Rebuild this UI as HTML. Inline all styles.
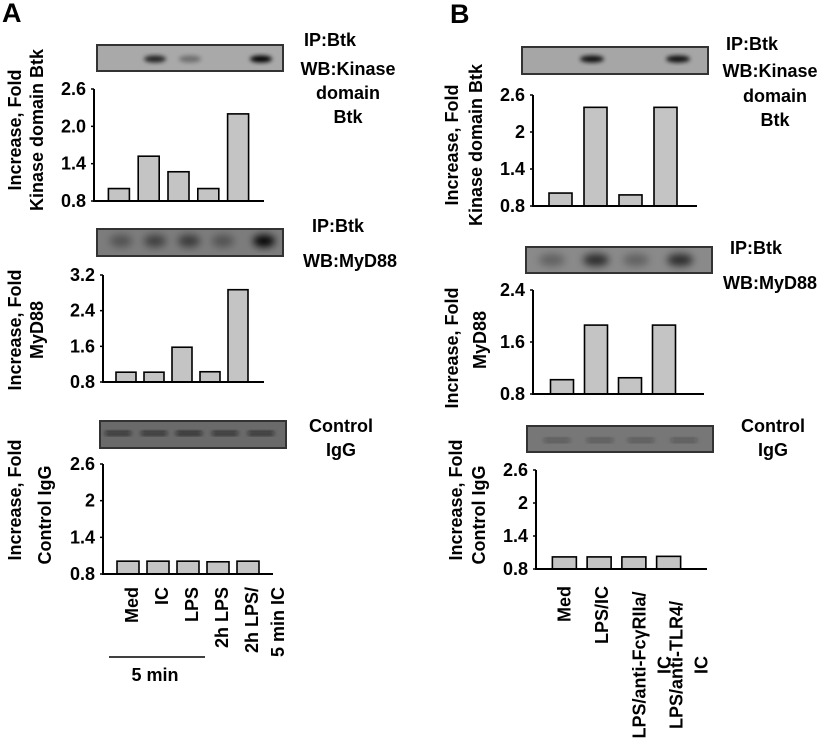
<!DOCTYPE html>
<html><head><meta charset="utf-8"><style>
html,body{margin:0;padding:0;background:#fff;}
svg{display:block;font-family:"Liberation Sans",Arial,sans-serif;font-weight:bold;}
</style></head><body>
<svg id="fig" width="830" height="748" viewBox="0 0 830 748" xmlns="http://www.w3.org/2000/svg">
<defs>
<filter id="blur1" x="-50%" y="-50%" width="200%" height="200%"><feGaussianBlur stdDeviation="2"/></filter>
<filter id="blur2" x="-50%" y="-50%" width="200%" height="200%"><feGaussianBlur stdDeviation="4"/></filter>
</defs>
<text x="2" y="22" font-size="27">A</text>
<text x="450" y="23" font-size="27">B</text>

<g font-size="18" text-anchor="middle">
<text x="330" y="46">IP:Btk</text>
<text x="348" y="75">WB:Kinase</text>
<text x="348" y="99">domain</text>
<text x="348" y="123">Btk</text>
<text x="338" y="232">IP:Btk</text>
<text x="350" y="267">WB:MyD88</text>
<text x="341" y="432">Control</text>
<text x="341" y="456">IgG</text>
<text x="752" y="50">IP:Btk</text>
<text x="770" y="77">WB:Kinase</text>
<text x="775" y="102">domain</text>
<text x="775" y="126">Btk</text>
<text x="756" y="254">IP:Btk</text>
<text x="770" y="289">WB:MyD88</text>
<text x="773" y="432">Control</text>
<text x="773" y="456">IgG</text>
</g>

<g font-size="18" text-anchor="middle">
<text transform="translate(21,130) rotate(-90)">Increase, Fold</text>
<text transform="translate(43,130) rotate(-90)">Kinase domain Btk</text>
<text transform="translate(21,330) rotate(-90)">Increase, Fold</text>
<text transform="translate(43,330) rotate(-90)">MyD88</text>
<text transform="translate(21,500) rotate(-90)">Increase, Fold</text>
<text transform="translate(51,515) rotate(-90)">Control IgG</text>
<text transform="translate(458,145) rotate(-90)">Increase, Fold</text>
<text transform="translate(482,145) rotate(-90)">Kinase domain Btk</text>
<text transform="translate(458,348) rotate(-90)">Increase, Fold</text>
<text transform="translate(486,340) rotate(-90)">MyD88</text>
<text transform="translate(462,500) rotate(-90)">Increase, Fold</text>
<text transform="translate(485,515) rotate(-90)">Control IgG</text>
</g>
<line x1="109" y1="657" x2="205" y2="657" stroke="#000" stroke-width="1.5"/>
<text x="155" y="681" font-size="18" text-anchor="middle">5 min</text>
<g id="marks"></g>
</svg>
<script>
const catsA = [["Med"],["IC"],["LPS"],["2h LPS"],["2h LPS/","5 min IC"]];
const catsB = [["Med"],["LPS/IC"],["LPS/anti-FcγRIIa/","IC"],["LPS/anti-TLR4/","IC"]];
const valsA1 = [1.0, 1.52, 1.27, 1.0, 2.2];
const valsA2 = [1.02, 1.02, 1.58, 1.03, 2.87];
const valsA3 = [1.01, 1.01, 1.01, 1.0, 1.01];
const valsB1 = [1.01, 2.4, 0.98, 2.4];
const valsB2 = [1.02, 1.86, 1.05, 1.86];
const valsB3 = [1.02, 1.02, 1.02, 1.03];
const ticksA1 = ["0.8","1.4","2.0","2.6"];
const ticksA2 = ["0.8","1.6","2.4","3.2"];
const ticksCtl = ["0.8","1.4","2","2.6"];
const ticksB2 = ["0.8","1.6","2.4"];
const bandA1 = [0, 0.8, 0.35, 0, 1];
const bandA2 = [0.35, 0.5, 0.55, 0.35, 1];
const bandA3 = [0.8, 0.8, 0.85, 0.8, 0.8];
const bandB1 = [0, 0.9, 0, 0.9];
const bandB2 = [0.3, 0.7, 0.3, 0.7];
const bandB3 = [0.4, 0.4, 0.4, 0.4];

const NS = "http://www.w3.org/2000/svg";
const root = document.getElementById("marks");
function mk(tag, attrs, parent){const e=document.createElementNS(NS,tag);for(const k in attrs)e.setAttribute(k,attrs[k]);(parent||root).appendChild(e);return e;}

function chart(id, cfg, vals, ticks){
  const g = mk("g",{});
  
  
  const tmin = parseFloat(ticks[0]), tmax = parseFloat(ticks[ticks.length-1]);
  const y = v => cfg.base - (v - tmin) / (tmax - tmin) * (cfg.base - cfg.top);
  const n = vals.length;
  const step = (cfg.xe - cfg.x0) / n;
  vals.forEach((v,i)=>{
    const cx = cfg.x0 + step*(i+0.5);
    const r = mk("rect",{x:cx-cfg.bw/2,y:y(v),width:cfg.bw,height:cfg.base-y(v),fill:"#c4c4c4",stroke:"#000","stroke-width":1.6},g);
    
    
  });
  const ax = mk("path",{d:`M${cfg.ax} ${cfg.top} V${cfg.base} H${cfg.axEnd}`,fill:"none",stroke:"#000","stroke-width":2},g);
  
  
  ticks.forEach(t=>{
    const ty = y(parseFloat(t));
    mk("line",{x1:cfg.ax-3,x2:cfg.ax,y1:ty,y2:ty,stroke:"#000","stroke-width":1.5},g);
    const tx = mk("text",{x:cfg.ax-8,y:ty+6,"font-size":18,"text-anchor":"end"},g);
    tx.textContent = t;
    
    
  });
}

function xlabels(id, cfg, cats, mode){
  const n = cats.length, step = (cfg.xe - cfg.x0)/n;
  cats.forEach((lines,i)=>{
    const cx = cfg.x0 + step*(i+0.5);
    lines.forEach((ln,j)=>{
      const lx = cx + cfg.lo + i*cfg.ls + j*cfg.lj;
      let t;
      if(mode==="top" || lines.length===1){
        t = mk("text",{transform:`translate(${lx},${cfg.ly}) rotate(-90)`,"font-size":18,"text-anchor":"end"});
      } else {
        t = mk("text",{transform:`translate(${lx},${cfg.lc}) rotate(-90)`,"font-size":18,"text-anchor":"middle"});
      }
      t.textContent = ln;
      
      
    });
  });
}

function blot(id, b, lanes, bands, thin){
  const g = mk("g",{});
  
  
  mk("rect",{x:b.x,y:b.y,width:b.w,height:b.h,fill:b.fill,stroke:"#333","stroke-width":2},g);
  const cl = mk("clipPath",{id:id+"clip"},g);
  mk("rect",{x:b.x,y:b.y,width:b.w,height:b.h},cl);
  const bg = mk("g",{"clip-path":`url(#${id}clip)`},g);
  bands.forEach((a,i)=>{
    if(a<=0) return;
    const cx = lanes[i];
    if(thin){
      mk("rect",{x:cx-13,y:b.by-1.5,width:26,height:3.5,rx:1.5,fill:"#111","fill-opacity":a,filter:"url(#blur1)"},bg);
    } else {
      mk("ellipse",{cx:cx,cy:b.by,rx:b.rx,ry:b.ry,fill:"#000","fill-opacity":a,filter:b.ry>5?"url(#blur2)":"url(#blur1)"},bg);
    }
  });
}

const cA1={x0:104,xe:253,bw:21,ax:94,axEnd:264,top:89,base:201};
const cA2={x0:112,xe:252,bw:20,ax:103,axEnd:264,top:275,base:382};
const cA3={x0:113,xe:263,bw:22,ax:103,axEnd:273,top:464,base:574,ly:587,lo:10,ls:0,lj:26};
const cB1={x0:543,xe:683,bw:23,ax:533,axEnd:697,top:95,base:206};
const cB2={x0:545,xe:681,bw:23,ax:533,axEnd:704,top:290,base:394};
const cB3={x0:547,xe:686,bw:24,ax:536,axEnd:707,top:470,base:569,ly:586,lc:665,lo:6,ls:2.7,lj:25};

chart("a1",cA1,valsA1,ticksA1);
chart("a2",cA2,valsA2,ticksA2);
chart("a3",cA3,valsA3,ticksCtl);
chart("b1",cB1,valsB1,ticksCtl);
chart("b2",cB2,valsB2,ticksB2);
chart("b3",cB3,valsB3,ticksCtl);
xlabels("a3",cA3,catsA,"top");
xlabels("b3",cB3,catsB,"center");

blot("a1",{x:97,y:45,w:186,h:26,fill:"#a9a9a9",by:59,rx:11,ry:3.5},[121,155,190,222,261],bandA1,false);
blot("a2",{x:97,y:229,w:186,h:27,fill:"#7c7c7c",by:241,rx:11,ry:6},[121,155,189,223,264],bandA2,false);
blot("a3",{x:100,y:421,w:186,h:27,fill:"#6a6a6a",by:433},[118,154,189,225,261],bandA3,true);
blot("b1",{x:522,y:47,w:186,h:27,fill:"#a6a6a6",by:59,rx:12,ry:3.5},[548,592,635,678],bandB1,false);
blot("b2",{x:526,y:247,w:186,h:26,fill:"#8a8a8a",by:260,rx:13,ry:6},[552,596,636,680],bandB2,false);
blot("b3",{x:527,y:426,w:186,h:26,fill:"#777",by:440},[557,600,641,684],bandB3,true);
</script>
</body></html>
